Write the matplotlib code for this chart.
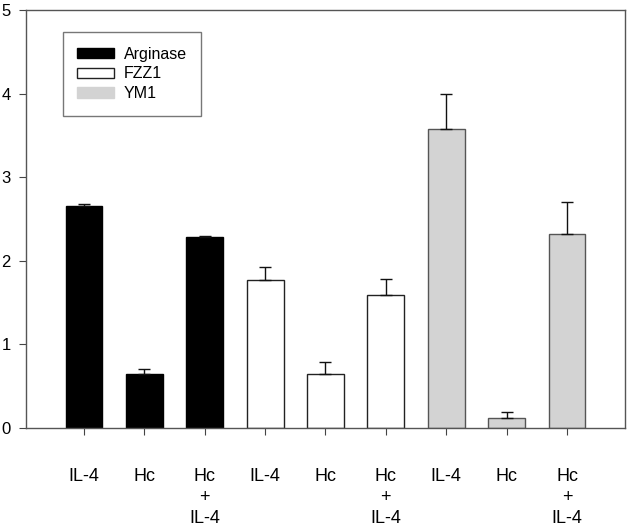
import numpy as np
import matplotlib.pyplot as plt

plt.rcParams['font.family'] = ['Liberation Sans', 'DejaVu Sans']

# data
tick_labels = ["IL-4", "Hc", "Hc\n+\nIL-4"] * 3
series = ["Arginase", "FZZ1", "YM1"]
arginase = [2.655, 0.65, 2.29]
arginase_err = [0.02, 0.05, 0.005]
fzz1 = [1.775, 0.65, 1.59]
fzz1_err = [0.145, 0.14, 0.19]
ym1 = [3.58, 0.12, 2.32]
ym1_err = [0.41, 0.07, 0.38]

fill = ["black", "white", "#d3d3d3"]
edge = ["black", "#222222", "#555555"]

fig = plt.figure(figsize=(6.29, 5.28), dpi=100)
ax = fig.add_axes([0.0413, 0.1894, 0.9523, 0.7916])

vals = [arginase, fzz1, ym1]
errs = [arginase_err, fzz1_err, ym1_err]
for i, name in enumerate(series):
    x = np.arange(3) + 3 * i
    ax.bar(x, vals[i], width=0.61, color=fill[i], edgecolor=edge[i],
           linewidth=1.0, label=name, zorder=2)
    ax.errorbar(x, vals[i], yerr=[np.zeros(3), errs[i]], fmt="none",
                ecolor="#111111", elinewidth=1.0, capsize=4.5, capthick=1.0,
                zorder=3)

ax.set_xlim(-0.96, 8.96)
ax.set_ylim(0, 5)
ax.set_yticks(range(6))
ax.set_xticks(range(9))
ax.set_xticklabels(tick_labels, fontsize=13, linespacing=1.3)
ax.tick_params(axis="x", length=5, pad=24, color="#444444")
ax.tick_params(axis="y", length=5, pad=6, labelsize=12, color="#444444")
for s in ax.spines.values():
    s.set_color("#555555")
    s.set_linewidth(1.0)

leg = ax.legend(loc="upper left", bbox_to_anchor=(0.062, 0.947),
                borderaxespad=0, fancybox=False, fontsize=11.5,
                handlelength=2.3, handleheight=0.63, handletextpad=0.6,
                labelspacing=0.3, borderpad=0.9)
leg.get_frame().set_edgecolor("#555555")
leg.get_frame().set_linewidth(1.0)
leg.legend_handles[2].set_edgecolor("#d3d3d3")

fig.savefig("out.png", dpi=100)
